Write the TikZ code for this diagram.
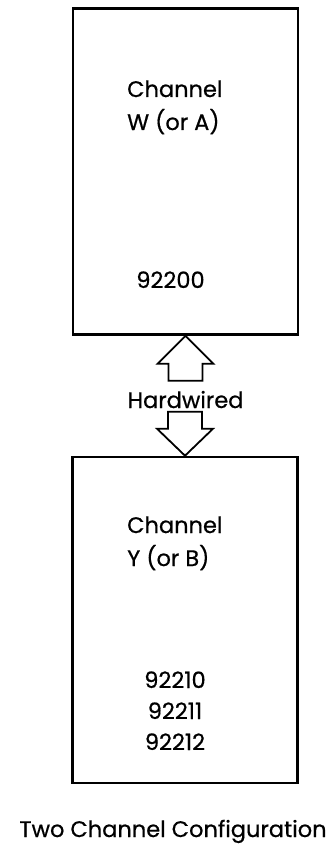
\documentclass[tikz,border=0pt]{standalone}
\usepackage{fontspec}
\setmainfont{Poppins}[FakeBold=0.6,AutoFakeBold=0.6]
\tikzset{
  chanbox/.style={draw, line width=2.6pt, minimum width=225pt, minimum height=326pt, inner sep=0pt},
  hollow/.style={draw, line width=1.8pt, line join=miter},
  lbl/.style={font=\fontsize{22.5}{27}\selectfont\bfseries, inner sep=0pt, anchor=base}
}
\begin{document}
\begin{tikzpicture}[x=1pt,y=-1pt]
            \useasboundingbox (0,0) rectangle (333,850);

            \node (chanW) at (185.5,171.5) [chanbox] {};
            \node (chanY) at (185,620) [chanbox] {};

            \node (nameW) at (127,97) [lbl, anchor=base west] {Channel};
            \node (portW) at (127,130) [lbl, anchor=base west] {W (or A)};
            \node (numW) at (170.5,288) [lbl] {92200};

            \node (nameY) at (127,533) [lbl, anchor=base west] {Channel};
            \node (portY) at (127,566) [lbl, anchor=base west] {Y (or B)};
            \foreach \n/\y in {0/688,1/719,2/750}
              \node (numY\n) at (175,\y) [lbl] {9221\n};

            \node (hw) at (185.5,408) [lbl] {Hardwired};

            \draw[hollow] (chanW.south) -- ++(28,28) -- ++(-11,0) -- ++(0,17) -- ++(-34,0) -- ++(0,-17) -- ++(-11,0) -- cycle;
            \draw[hollow] (chanY.north) -- ++(28,-27) -- ++(-11,0) -- ++(0,-17) -- ++(-34,0) -- ++(0,17) -- ++(-11,0) -- cycle;

            \node (caption) at (173,837) [lbl] {Two Channel Configuration};
        \end{tikzpicture}
\end{document}
